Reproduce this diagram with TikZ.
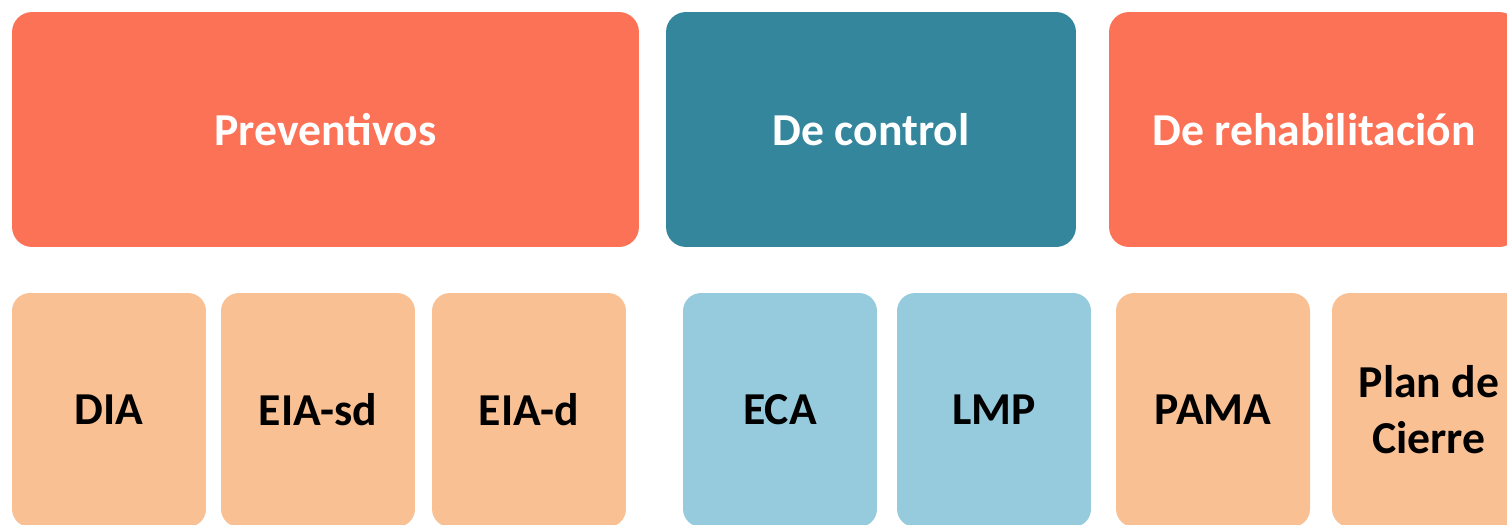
\documentclass[tikz,border=0pt]{standalone}
\usepackage{fontspec}
\setmainfont{Carlito}
\definecolor{coral}{RGB}{252,114,86}
\definecolor{teal}{RGB}{51,134,156}
\definecolor{peach}{RGB}{248,192,147}
\definecolor{skyblue}{RGB}{149,203,220}
\tikzset{
  group/.style={rounded corners=0.4cm, inner sep=0pt, minimum height=4.7cm,
    text=white, font=\fontsize{26}{32}\selectfont\bfseries},
  item/.style={rounded corners=0.36cm, inner sep=0pt, minimum width=3.88cm,
    minimum height=4.68cm, align=center, font=\fontsize{26}{32}\selectfont\bfseries}
}

\begin{document}
\begin{tikzpicture}[x=0.02cm, y=-0.02cm]
\clip (0,0) rectangle (1507,524);
\fill[white] (0,0) rectangle (1507,524);
% categories
\node[group, fill=coral, minimum width=12.54cm] (prev) at (325.5,129.5) {Preventivos};
\node[group, fill=teal, minimum width=8.2cm] (ctrl) at (871,129.5) {De control};
\node[group, fill=coral, minimum width=8.2cm] (rehab) at (1314,129.5) {De rehabilitación};
% instruments
\node[item, fill=peach] (dia) at (109,410) {DIA};
\node[item, fill=peach] (eiasd) at (318,410) {EIA-sd};
\node[item, fill=peach] (eiad) at (529,410) {EIA-d};
\node[item, fill=skyblue] (eca) at (780,410) {ECA};
\node[item, fill=skyblue] (lmp) at (994,410) {LMP};
\node[item, fill=peach] (pama) at (1213,410) {PAMA};
\node[item, fill=peach] (cierre) at (1429,410) {Plan de\\Cierre};
\end{tikzpicture}
\end{document}
